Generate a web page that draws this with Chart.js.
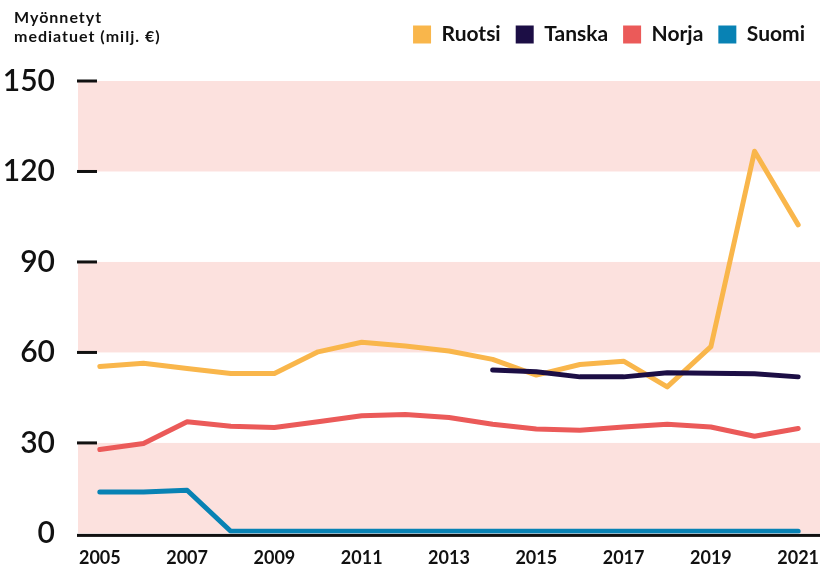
<!DOCTYPE html>
<html>
<head>
<meta charset="utf-8">
<script src="https://cdn.jsdelivr.net/npm/chart.js@4/dist/chart.umd.min.js"></script>
<style>
  html, body { margin: 0; padding: 0; background: #fff; }
  #wrap { width: 831px; height: 577px; position: relative; }
</style>
</head>
<body>
<div id="wrap"><canvas id="chart"></canvas></div>
<script>
const years = [2005, 2006, 2007, 2008, 2009, 2010, 2011, 2012, 2013, 2014, 2015, 2016, 2017, 2018, 2019, 2020, 2021];
const ruotsi = [55.3, 56.4, 54.7, 53, 53, 60.2, 63.4, 62.1, 60.5, 57.7, 52.5, 56, 57.1, 48.6, 61.9, 126.7, 102.3];
const tanska = [null, null, null, null, null, null, null, null, null, 54.2, 53.6, 51.9, 51.9, 53.3, 53.1, 52.9, 51.9];
const norja = [27.8, 29.8, 37, 35.5, 35.1, 37, 39, 39.4, 38.4, 36.2, 34.6, 34.2, 35.3, 36.2, 35.3, 32.2, 34.8];
const suomi = [13.7, 13.7, 14.3, 0.7, 0.7, 0.7, 0.7, 0.7, 0.7, 0.7, 0.7, 0.7, 0.7, 0.7, 0.7, 0.7, 0.7];
const yTicks = [0, 30, 60, 90, 120, 150];
const xTicks = [2005, 2007, 2009, 2011, 2013, 2015, 2017, 2019, 2021];
const bands = [[0, 30], [60, 90], [120, 150]];

const FONT = 'Lato, "Open Sans", sans-serif';
const toPoints = (vals) => years.map((yr, i) => ({ x: yr, y: vals[i] }));

const line = (label, vals, color, order) => ({
  label,
  data: toPoints(vals),
  borderColor: color,
  backgroundColor: color,
  borderWidth: 5,
  borderCapStyle: 'round',
  borderJoinStyle: 'round',
  pointRadius: 0,
  tension: 0,
  order,
});

const decor = {
  id: 'decor',
  beforeInit(chart) {
    const fit = chart.legend.fit;
    chart.legend.fit = function () {
      fit.call(this);
      this.height += 26;
    };
  },
  beforeDatasetsDraw(chart) {
    const { ctx, chartArea: a, scales: { y } } = chart;
    ctx.save();
    ctx.fillStyle = '#fce1de';
    bands.forEach(([lo, hi]) => {
      const top = y.getPixelForValue(hi);
      const bot = y.getPixelForValue(lo);
      ctx.fillRect(a.left, top, a.right - a.left, bot - top);
    });
    ctx.fillStyle = '#111';
    yTicks.forEach((v) => {
      if (v === 0) return;
      ctx.fillRect(a.left - 1, y.getPixelForValue(v) - 1.5, 20, 3);
    });
    ctx.fillRect(a.left - 1, y.getPixelForValue(0) + 0.5, a.right - a.left + 1, 3);
    ctx.restore();
  },
  afterDraw(chart) {
    const { ctx } = chart;
    ctx.save();
    ctx.fillStyle = '#111';
    ctx.font = 'bold 16px ' + FONT;
    ctx.letterSpacing = '1px';
    ctx.textBaseline = 'middle';
    ctx.fillText('Myönnetyt', 14, 18);
    ctx.fillText('mediatuet (milj. €)', 14, 37);
    ctx.restore();
  },
};

new Chart(document.getElementById('chart'), {
  type: 'line',
  data: {
    datasets: [
      line('Ruotsi', ruotsi, '#f9b64b', 2),
      line('Tanska', tanska, '#1c0e45', 1),
      line('Norja', norja, '#eb5a59', 3),
      line('Suomi', suomi, '#0882b4', 4),
    ],
  },
  options: {
    responsive: true,
    maintainAspectRatio: false,
    animation: false,
    layout: { padding: { top: 9, right: 11, left: 0, bottom: 2 } },
    plugins: {
      legend: {
        position: 'top',
        align: 'end',
        labels: {
          boxWidth: 18,
          boxHeight: 18,
          padding: 15,
          color: '#111',
          font: { family: FONT, size: 21, weight: 'bold' },
          sort: (a, b) => a.datasetIndex - b.datasetIndex,
          generateLabels(chart) {
            return chart.data.datasets.map((ds, i) => ({
              text: ds.label,
              fillStyle: ds.borderColor,
              strokeStyle: ds.borderColor,
              lineWidth: 0,
              datasetIndex: i,
              fontColor: '#111',
            }));
          },
        },
      },
      tooltip: { enabled: false },
    },
    scales: {
      x: {
        type: 'linear',
        min: 2004.5,
        max: 2021.5,
        afterBuildTicks(axis) {
          axis.ticks = xTicks.map((v) => ({ value: v }));
        },
        grid: { display: false },
        border: { display: false },
        ticks: {
          color: '#111',
          padding: 6,
          maxRotation: 0,
          font: { family: FONT, size: 18, weight: 'bold' },
          callback: (v) => String(v),
        },
      },
      y: {
        min: 0,
        max: 150,
        afterBuildTicks(axis) {
          axis.ticks = yTicks.map((v) => ({ value: v }));
        },
        afterFit(axis) {
          axis.width = 78;
        },
        grid: { display: false },
        border: { display: false },
        ticks: {
          color: '#111',
          padding: 15,
          font: { family: FONT, size: 30, weight: '600' },
        },
      },
    },
  },
  plugins: [decor],
});
</script>
</body>
</html>
